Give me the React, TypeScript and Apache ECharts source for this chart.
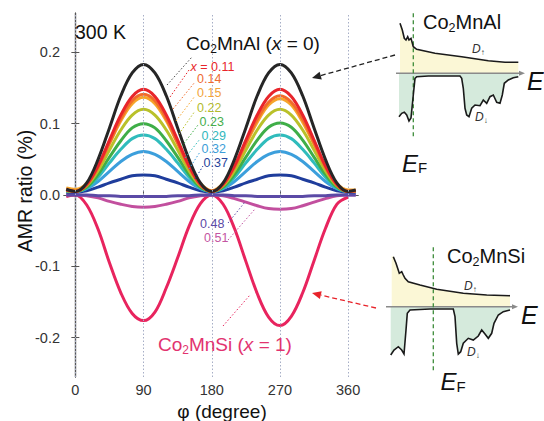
import React, { useEffect, useRef } from 'react';
import * as echarts from 'echarts';

// ---------- data ----------
const phi = [-12, 0, 15, 30, 45, 60, 75, 90, 105, 120, 135, 150, 165, 180, 195, 210, 225, 240, 255, 270, 285, 300, 315, 330, 345, 360, 370];

const amrX000 = [0.008, 0.005, 0.017, 0.050, 0.094, 0.139, 0.171, 0.183, 0.171, 0.139, 0.094, 0.050, 0.017, 0.005, 0.017, 0.050, 0.094, 0.139, 0.171, 0.183, 0.171, 0.139, 0.094, 0.050, 0.017, 0.005, 0.007];
const amrX011 = [0.007, 0.005, 0.015, 0.041, 0.077, 0.112, 0.138, 0.148, 0.138, 0.112, 0.077, 0.041, 0.015, 0.005, 0.015, 0.041, 0.077, 0.112, 0.138, 0.148, 0.138, 0.112, 0.077, 0.041, 0.015, 0.005, 0.006];
const amrX014 = [0.008, 0.005, 0.014, 0.039, 0.073, 0.107, 0.132, 0.141, 0.132, 0.107, 0.073, 0.039, 0.014, 0.005, 0.014, 0.039, 0.073, 0.106, 0.130, 0.139, 0.130, 0.106, 0.073, 0.039, 0.014, 0.005, 0.006];
const amrX015 = [0.010, 0.008, 0.016, 0.040, 0.072, 0.104, 0.128, 0.137, 0.128, 0.104, 0.072, 0.040, 0.016, 0.006, 0.016, 0.040, 0.071, 0.102, 0.126, 0.135, 0.126, 0.102, 0.071, 0.040, 0.016, 0.007, 0.007];
const amrX022 = [0.006, 0.005, 0.013, 0.034, 0.063, 0.091, 0.112, 0.120, 0.112, 0.091, 0.063, 0.034, 0.013, 0.005, 0.013, 0.034, 0.063, 0.091, 0.112, 0.120, 0.112, 0.091, 0.063, 0.034, 0.013, 0.005, 0.005];
const amrX023 = [0.006, 0.005, 0.011, 0.029, 0.053, 0.076, 0.094, 0.100, 0.094, 0.076, 0.053, 0.029, 0.011, 0.005, 0.011, 0.029, 0.053, 0.077, 0.095, 0.101, 0.095, 0.077, 0.053, 0.029, 0.011, 0.005, 0.005];
const amrX029 = [0.005, 0.005, 0.010, 0.025, 0.045, 0.064, 0.079, 0.084, 0.079, 0.064, 0.045, 0.025, 0.010, 0.005, 0.010, 0.025, 0.045, 0.064, 0.079, 0.084, 0.079, 0.064, 0.045, 0.025, 0.010, 0.005, 0.005];
const amrX032 = [0.005, 0.005, 0.009, 0.019, 0.033, 0.047, 0.057, 0.061, 0.057, 0.047, 0.033, 0.019, 0.009, 0.005, 0.009, 0.019, 0.033, 0.047, 0.057, 0.061, 0.057, 0.047, 0.033, 0.019, 0.009, 0.005, 0.005];
const amrX037 = [0.004, 0.004, 0.006, 0.011, 0.017, 0.022, 0.027, 0.028, 0.027, 0.022, 0.017, 0.011, 0.006, 0.004, 0.006, 0.011, 0.017, 0.022, 0.027, 0.028, 0.027, 0.022, 0.017, 0.011, 0.006, 0.004, 0.004];
const amrX048 = [0.000, 0.000, 0.000, -0.001, -0.001, -0.002, -0.002, -0.002, -0.002, -0.002, -0.001, -0.001, 0.000, 0.000, 0.000, -0.001, -0.001, -0.002, -0.002, -0.002, -0.002, -0.002, -0.001, -0.001, 0.000, 0.000, 0.000];
const amrX051 = [0.000, 0.000, -0.001, -0.004, -0.009, -0.013, -0.016, -0.017, -0.016, -0.013, -0.009, -0.004, -0.001, 0.000, -0.001, -0.005, -0.010, -0.015, -0.019, -0.020, -0.019, -0.015, -0.010, -0.005, -0.001, 0.000, 0.000];
const amrX100 = [-0.002, 0.000, -0.014, -0.048, -0.095, -0.137, -0.166, -0.176, -0.164, -0.130, -0.088, -0.044, -0.012, 0.000, -0.013, -0.047, -0.093, -0.138, -0.171, -0.183, -0.170, -0.137, -0.092, -0.047, -0.013, -0.003, null];

const xTicks = [0, 90, 180, 270, 360];
const yTicks = [-0.2, -0.1, 0, 0.1, 0.2];
const yTickLabels = ['-0.2', '-0.1', '0.0', '0.1', '0.2'];

const FF = '"Liberation Sans", Arial, Helvetica, sans-serif';

const curves = [
  { data: amrX100, color: '#e8245e' },
  { data: amrX051, color: '#c24f9e' },
  { data: amrX048, color: '#5b4aa6' },
  { data: amrX037, color: '#1f3d9c' },
  { data: amrX032, color: '#3c9fdc' },
  { data: amrX029, color: '#30bcbc' },
  { data: amrX023, color: '#3fae48' },
  { data: amrX022, color: '#b9c12a' },
  { data: amrX015, color: '#f6a52a' },
  { data: amrX014, color: '#f26b2b' },
  { data: amrX011, color: '#e8252b' },
  { data: amrX000, color: '#262626' },
];

// ---------- helpers for the annotations ----------
let measureCtx: CanvasRenderingContext2D | null = null;
function measure(t: string, size: number, italic: boolean): number {
  if (!measureCtx) measureCtx = document.createElement('canvas').getContext('2d');
  if (!measureCtx) return t.length * size * 0.55;
  measureCtx.font = (italic ? 'italic ' : '') + size + 'px ' + FF;
  return measureCtx.measureText(t).width;
}
type Part = [string, number, boolean?, number?];
// parts: [text, fontSize, italic, dy]
function runs(x: number, y: number, parts: Part[], color: string) {
  const out: any[] = [];
  let cx = x;
  for (const [t, size, italic, dy] of parts) {
    out.push({
      type: 'text', x: cx, y: y + (dy || 0), silent: true, z: 20,
      style: {
        text: t, fill: color, fontSize: size, fontFamily: FF, fontStyle: italic ? 'italic' : 'normal',
        align: 'left', verticalAlign: 'middle', textAlign: 'left', textVerticalAlign: 'middle',
      },
    });
    cx += measure(t, size, !!italic);
  }
  return out;
}
function plain(x: number, y: number, t: string, size: number, color: string, extra: any = {}) {
  return {
    type: 'text', x, y, silent: true, z: 20,
    style: { text: t, fill: color, fontSize: size, fontFamily: FF, align: 'left', verticalAlign: 'middle', textAlign: 'left', textVerticalAlign: 'middle', ...extra },
  };
}
function dotted(x1: number, y1: number, x2: number, y2: number, color: string) {
  return { type: 'line', silent: true, z: 15, shape: { x1, y1, x2, y2 }, style: { stroke: color, lineWidth: 1, lineDash: [1.5, 2] } };
}
function poly(points: number[][], fill: string) {
  return { type: 'polygon', silent: true, z: 12, shape: { points }, style: { fill, stroke: 'none' } };
}
function pline(points: number[][], color: string, w = 1.6) {
  return { type: 'polyline', silent: true, z: 14, shape: { points }, style: { stroke: color, lineWidth: w, fill: 'none' } };
}
function sline(x1: number, y1: number, x2: number, y2: number, color: string, w: number, dash?: number[]) {
  return { type: 'line', silent: true, z: 13, shape: { x1, y1, x2, y2 }, style: { stroke: color, lineWidth: w, lineDash: dash } };
}

// DOS sketches (schematic, pixel space)
const upTop = [[400, 23.3], [402.3, 30], [404.3, 38.3], [406, 40], [407.7, 36.7], [409, 40], [411, 38.3], [413.3, 46.7], [416.7, 49.3], [435, 53.3], [461.7, 56.7], [488.3, 60.7], [505, 62.3], [518.3, 62.3]];
const downTop = [[399, 116.7], [401.7, 113.3], [404.3, 112.3], [406.7, 115], [409, 121], [411, 118], [413.3, 95], [415, 78.3], [416.7, 76.7], [428.3, 76], [460, 76], [461.7, 78.3], [463.3, 88.3], [465, 108.3], [466.7, 115], [469, 116.7], [471.7, 108.3], [475, 105], [480, 105.7], [483.3, 100], [486.7, 103.3], [490, 96.7], [493.3, 95], [496.7, 102.3], [500, 103.3], [502.3, 95], [504.3, 83.3], [508.3, 80], [513.3, 77.7], [518.3, 76.7]];
const upBot = [[393.3, 256.7], [396, 263.3], [399.3, 273.3], [401.7, 271.7], [403.3, 275], [405, 278.3], [408.3, 281.7], [420, 285], [436.7, 289.3], [463.3, 293.3], [486.7, 295], [510, 295.7]];
const downBot = [[390.7, 355], [394, 350], [398.3, 346.7], [401.7, 350], [404, 354], [406, 330], [407.3, 313.3], [410, 310], [430, 309], [453.3, 309], [455, 316.7], [456.7, 343.3], [458.3, 354], [460.7, 351.7], [463.3, 343.3], [468.3, 338.3], [473.3, 340], [478.3, 336], [481.7, 330], [485, 334], [488.3, 338.3], [491.7, 333.3], [494, 323.3], [498.3, 315], [503.3, 311.7], [510, 310]];

const YEL = '#fbf7d6';
const GRN = '#d5eadc';
const DOSLINE = '#1a1a1a';
const AXG = '#8a8a8a';
const EFG = '#3d8c3a';

function buildGraphics() {
  const g: any[] = [
    plain(75, 32, '300 K', 19.5, '#111'),
    ...runs(186, 43.5, [['Co', 19], ['2', 12, false, 5.5], ['MnAl (', 19], ['x', 19, true], [' = 0)', 19]], '#111'),
    ...runs(190.5, 66.5, [['x', 12.5, true], [' = 0.11', 12.5]], '#e8252b'),
    plain(197, 79, '0.14', 12.5, '#ee6a32'),
    plain(197, 92.5, '0.15', 12.5, '#f2a43a'),
    plain(197, 108, '0.22', 12.5, '#b3bb2e'),
    plain(199.5, 122, '0.23', 12.5, '#45ae4d'),
    plain(201.5, 136, '0.29', 12.5, '#33b7bd'),
    plain(201.5, 149, '0.32', 12.5, '#3d9dd8'),
    plain(203.5, 163, '0.37', 12.5, '#27449c'),
    plain(200, 223.5, '0.48', 12.5, '#5b4aa6'),
    plain(204, 238, '0.51', 12.5, '#c455a2'),
    ...runs(158, 344, [['Co', 19], ['2', 12, false, 5.5], ['MnSi (', 19], ['x', 19, true], [' = 1)', 19]], '#e2336f'),
    // leaders
    dotted(167, 85, 192, 57, '#444'),
    dotted(170, 97, 189, 70, '#e8252b'),
    dotted(173, 109, 195, 82, '#f26b2b'),
    dotted(176, 121, 195, 96, '#f6a52a'),
    dotted(179, 134, 195, 111, '#b9c12a'),
    dotted(182, 146, 198, 125, '#3fae48'),
    dotted(185, 158, 200, 139, '#30bcbc'),
    dotted(189, 169, 200, 152, '#3c9fdc'),
    dotted(195, 179, 203, 166, '#1f3d9c'),
    dotted(228, 223, 245, 202, '#5b4aa6'),
    dotted(228, 240, 255, 209, '#c24f9e'),
    dotted(223, 326, 250, 295, '#e8245e'),
    // axis titles
    { type: 'text', x: 25, y: 191, rotation: Math.PI / 2, silent: true, z: 20,
      style: { text: 'AMR ratio (%)', fontSize: 19.5, fill: '#111', fontFamily: FF, align: 'center', verticalAlign: 'middle', textAlign: 'center', textVerticalAlign: 'middle' } },
    plain(222, 411, 'φ (degree)', 19, '#111', { align: 'center', textAlign: 'center' }),
    // arrows
    sline(395, 55, 320.7, 75.6, '#222', 1.3, [5, 3]),
    { type: 'polygon', silent: true, z: 13, shape: { points: [[312, 78], [319.6, 71.7], [321.8, 79.5]] }, style: { fill: '#222' } },
    sline(376, 308, 320.8, 295.1, '#e8232a', 1.3, [5, 3]),
    { type: 'polygon', silent: true, z: 13, shape: { points: [[312, 293], [321.7, 291.2], [319.9, 299]] }, style: { fill: '#e8232a' } },
    // top DOS
    poly([[400, 73.3], [400, 22], ...upTop, [518.3, 73.3]], YEL),
    poly([[399, 73.3], ...downTop, [518.3, 73.3]], GRN),
    pline(upTop, DOSLINE),
    pline(downTop, DOSLINE),
    sline(396, 73.3, 521, 73.3, AXG, 1.5),
    { type: 'polygon', silent: true, z: 13, shape: { points: [[525, 73.3], [519, 70.8], [519, 75.8]] }, style: { fill: AXG } },
    sline(413.3, 13.3, 413.3, 136.7, EFG, 1.3, [4, 3]),
    ...runs(423, 22, [['Co', 20], ['2', 12.5, false, 6], ['MnAl', 20]], '#111'),
    ...runs(472, 48.5, [['D', 12, true], ['↑', 8, false, 3.5]], '#333'),
    ...runs(475, 117, [['D', 12, true], ['↓', 8, false, 3.5]], '#333'),
    plain(527, 80.5, 'E', 25, '#111', { fontStyle: 'italic' }),
    ...runs(402, 163, [['E', 24, true], ['F', 15, false, 4.5]], '#111'),
    // bottom DOS
    poly([[391.7, 306.7], [391.7, 256], ...upBot, [510, 306.7]], YEL),
    poly([[390.7, 306.7], ...downBot, [510, 306.7]], GRN),
    pline(upBot, DOSLINE),
    pline(downBot, DOSLINE),
    sline(386, 306.7, 514, 306.7, AXG, 1.5),
    { type: 'polygon', silent: true, z: 13, shape: { points: [[518, 306.7], [512, 304.2], [512, 309.2]] }, style: { fill: AXG } },
    sline(433.3, 247.3, 433.3, 371.7, EFG, 1.3, [4, 3]),
    ...runs(447, 255.5, [['Co', 20], ['2', 12.5, false, 6], ['MnSi', 20]], '#111'),
    ...runs(464, 285.5, [['D', 12, true], ['↑', 8, false, 3.5]], '#333'),
    ...runs(467, 352, [['D', 12, true], ['↓', 8, false, 3.5]], '#333'),
    plain(521, 315, 'E', 25, '#111', { fontStyle: 'italic' }),
    ...runs(440.5, 381.5, [['E', 24, true], ['F', 15, false, 4.5]], '#111'),
  ];
  return g;
}

export default function App() {
  const ref = useRef<HTMLDivElement>(null);
  useEffect(() => {
    if (!ref.current) return;
    const chart = echarts.init(ref.current, undefined, { renderer: 'svg' });
    const frame = { show: true, lineStyle: { color: '#555', width: 1.2 } };
    const option: any = {
      animation: false,
      backgroundColor: '#ffffff',
      grid: { left: 64, top: 13, right: 186, bottom: 44, containLabel: false },
      xAxis: [
        {
          type: 'value', min: -15, max: 373, position: 'bottom',
          axisLine: frame,
          axisTick: { show: true, inside: true, length: 4, customValues: xTicks, lineStyle: { color: '#555' } },
          axisLabel: { show: true, customValues: xTicks, fontSize: 14.5, color: '#333', fontFamily: FF, margin: 5 },
          splitLine: { show: false },
        },
        {
          type: 'value', min: -15, max: 373, position: 'top',
          axisLine: frame, axisTick: { show: false }, axisLabel: { show: false }, splitLine: { show: false },
        },
      ],
      yAxis: [
        {
          type: 'value', min: -0.255, max: 0.255, position: 'left',
          axisLine: frame,
          axisTick: { show: true, inside: true, length: 4, customValues: yTicks, lineStyle: { color: '#555' } },
          axisLabel: {
            show: true, customValues: yTicks, fontSize: 14.5, color: '#333', fontFamily: FF, margin: 4,
            formatter: (v: number) => {
              const k = yTicks.findIndex((t) => Math.abs(t - v) < 1e-9);
              return k >= 0 ? yTickLabels[k] : String(v);
            },
          },
          splitLine: { show: false },
        },
        {
          type: 'value', min: -0.255, max: 0.255, position: 'right',
          axisLine: frame,
          axisTick: { show: true, inside: true, length: 4, customValues: yTicks, lineStyle: { color: '#555' } },
          axisLabel: { show: false }, splitLine: { show: false },
        },
      ],
      series: [
        {
          type: 'line', data: [[0, 0]], symbol: 'none', lineStyle: { width: 0, opacity: 0 }, silent: true, z: 1,
          markLine: {
            silent: true, symbol: ['none', 'none'], label: { show: false },
            lineStyle: { type: [1.5, 2], color: '#a6aec6', width: 1 },
            data: xTicks.map((v) => ({ xAxis: v })),
          },
        },
        ...curves.map((c, idx) => ({
          type: 'line',
          data: phi.map((p, i) => [p, c.data[i]]),
          smooth: 0.35,
          symbol: 'none',
          showSymbol: false,
          connectNulls: false,
          lineStyle: { color: c.color, width: 3 },
          itemStyle: { color: c.color },
          z: 3 + idx * 0.01,
          silent: true,
        })),
      ],
      graphic: buildGraphics(),
    };
    chart.setOption(option);
    return () => chart.dispose();
  }, []);
  return <div ref={ref} style={{ position: 'fixed', left: 0, top: 0, width: 544, height: 421, background: '#fff' }} />;
}
